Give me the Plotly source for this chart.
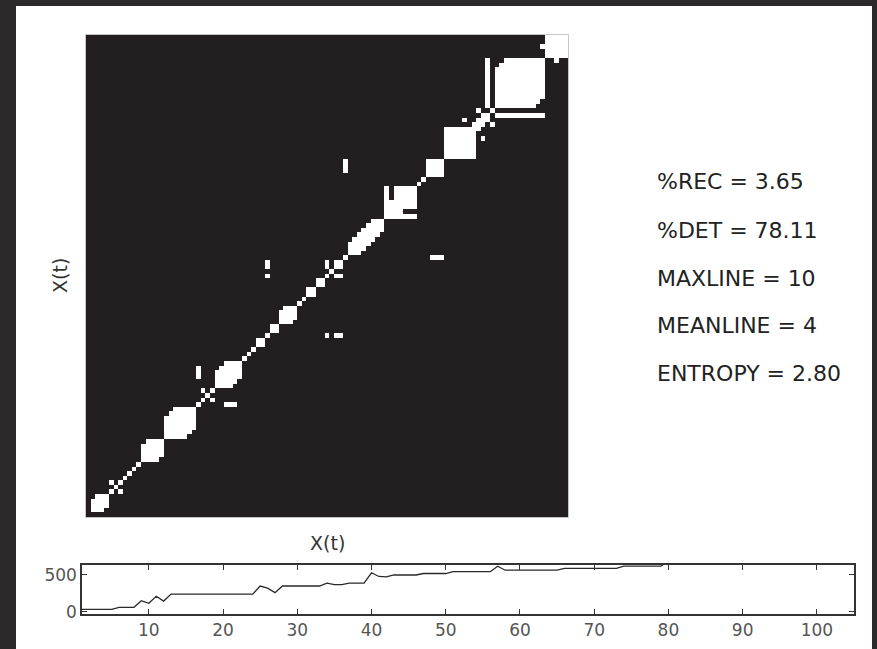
import numpy as np
import plotly.graph_objects as go

# ---------------- data ----------------
N = 105
time_index = list(range(1, N + 1))
series = [33, 33, 33, 33, 33, 60, 60, 60, 150, 115,
          210, 145, 240, 240, 240, 240, 240, 240, 240, 240,
          240, 240, 240, 240, 350, 320, 260, 350, 350, 350,
          350, 350, 350, 390, 370, 370, 390, 390, 390, 530,
          480, 475, 500, 500, 500, 500, 520, 520, 520, 520,
          545, 545, 545, 545, 545, 545, 620, 565, 565, 565,
          565, 565, 565, 565, 565, 590, 590, 590, 590, 590,
          590, 590, 590, 620, 620, 620, 620, 620, 620, 690,
          700, 705, 710, 715, 720, 725, 735, 740, 745, 750,
          750, 752, 755, 756, 758, 760, 760, 762, 765, 780,
          782, 783, 784, 785, 786]

# recurrent diagonal blocks: (first index, last index, max |i-j|)
diag_start = 1
diag_blocks = [(1, 4, 2), (12, 16, 3), (17, 23, 4), (28, 33, 3), (37, 38, 1),
               (40, 41, 1), (42, 45, 2), (48, 49, 1), (50, 51, 1), (54, 55, 1),
               (57, 64, 2), (65, 71, 6), (74, 77, 3), (78, 84, 6), (84, 87, 1),
               (89, 99, 8), (100, 104, 4)]
# X-shaped crossings centred on these indices
cross_centres = [6, 26, 53, 88]
# off-diagonal recurrent runs: (column, first row, last row), mirrored
off_runs = [(24, 30, 32), (39, 52, 52), (39, 54, 55), (52, 54, 55), (56, 75, 77),
            (82, 86, 86), (85, 88, 88), (87, 89, 99), (99, 102, 102)]
# non-recurrent runs inside blocks: (column, first row, last row), mirrored
gap_runs = [(66, 69, 71)]

stats_labels = ["%REC = 3.65", "%DET = 78.11", "MAXLINE = 10",
                "MEANLINE = 4", "ENTROPY = 2.80"]
x_ticks = [10, 20, 30, 40, 50, 60, 70, 80, 90, 100]
y_ticks = [0, 500]

# ---------------- recurrence matrix ----------------
R = np.zeros((N, N))
for i in range(diag_start, N):
    R[i, i] = 1
for a, b, d in diag_blocks:
    for i in range(a, b + 1):
        for j in range(a, b + 1):
            if abs(i - j) <= d:
                R[i, j] = 1
for c in cross_centres:
    for di in (-1, 0, 1):
        R[c + di, c + di] = 1
        R[c + di, c - di] = 1
for col, r0, r1 in off_runs:
    for r in range(r0, r1 + 1):
        R[r, col] = 1
        R[col, r] = 1
for col, r0, r1 in gap_runs:
    for r in range(r0, r1 + 1):
        R[r, col] = 0
        R[col, r] = 0

W, H = 877, 649


def px(x):
    return x / W


def py(y):
    return 1 - y / H


fig = go.Figure()
fig.add_trace(go.Heatmap(z=R, x=list(range(N)), y=list(range(N)),
                         colorscale=[[0, "#231f20"], [1, "#ffffff"]],
                         zmin=0, zmax=1, showscale=False, zsmooth=False,
                         hoverinfo="skip", xaxis="x", yaxis="y"))
fig.add_trace(go.Scatter(x=time_index, y=series, mode="lines",
                         line=dict(color="#2a2a2a", width=1.3),
                         hoverinfo="skip", xaxis="x2", yaxis="y2",
                         showlegend=False))

axis_font = dict(family="DejaVu Sans", size=17, color="#555555")

fig.update_layout(
    width=W, height=H, autosize=False,
    margin=dict(l=0, r=0, t=0, b=0, pad=0, autoexpand=False),
    paper_bgcolor="#2b292a",
    plot_bgcolor="#ffffff",
    showlegend=False,
    xaxis=dict(domain=[px(86), px(568)], range=[-0.5, N - 0.5], automargin=False,
               showticklabels=False, ticks="", showgrid=False, zeroline=False,
               showline=True, mirror=True, linecolor="#c8c8c8", linewidth=1),
    yaxis=dict(domain=[py(517), py(35)], range=[-0.5, N - 0.5], automargin=False,
               showticklabels=False, ticks="", showgrid=False, zeroline=False,
               showline=True, mirror=True, linecolor="#c8c8c8", linewidth=1),
    xaxis2=dict(domain=[px(82), px(854)], range=[1, 105], anchor="y2",
                automargin=False,
                tickvals=x_ticks, ticks="inside", ticklen=5, tickwidth=1.3,
                tickcolor="#333333", showgrid=False, zeroline=False,
                showline=True, mirror="allticks", linecolor="#333333",
                linewidth=1.5, tickfont=axis_font),
    yaxis2=dict(domain=[py(614), py(565)], range=[-31, 636], anchor="x2",
                automargin=False,
                tickvals=y_ticks, ticks="inside", ticklen=5, tickwidth=1.3,
                tickcolor="#333333", showgrid=False, zeroline=False,
                showline=True, mirror="allticks", linecolor="#333333",
                linewidth=1.5, tickfont=axis_font),
    shapes=[dict(type="rect", xref="paper", yref="paper", layer="below",
                 x0=px(16), x1=px(872), y0=0, y1=py(6),
                 fillcolor="#ffffff", line=dict(width=0))],
)

text_y = [179, 228, 276, 323, 371]
for lab, yy in zip(stats_labels, text_y):
    fig.add_annotation(x=px(655), y=py(yy + 2), xref="paper", yref="paper",
                       text=lab, showarrow=False, xanchor="left", yanchor="middle",
                       font=dict(family="DejaVu Sans", size=22, color="#222222"))

fig.add_annotation(x=px(327), y=py(543), xref="paper", yref="paper", text="X(t)",
                   showarrow=False, xanchor="center", yanchor="middle",
                   font=dict(family="DejaVu Sans", size=19, color="#333333"))
fig.add_annotation(x=px(60), y=py(276), xref="paper", yref="paper", text="X(t)",
                   showarrow=False, xanchor="center", yanchor="middle", textangle=-90,
                   font=dict(family="DejaVu Sans", size=19, color="#333333"))

fig.write_html("out.html",
               config={"displayModeBar": False, "responsive": False},
               post_script="document.body.style.margin='0';"
                           "document.body.style.background='#2b292a';"
                           "document.body.style.overflow='hidden';")
